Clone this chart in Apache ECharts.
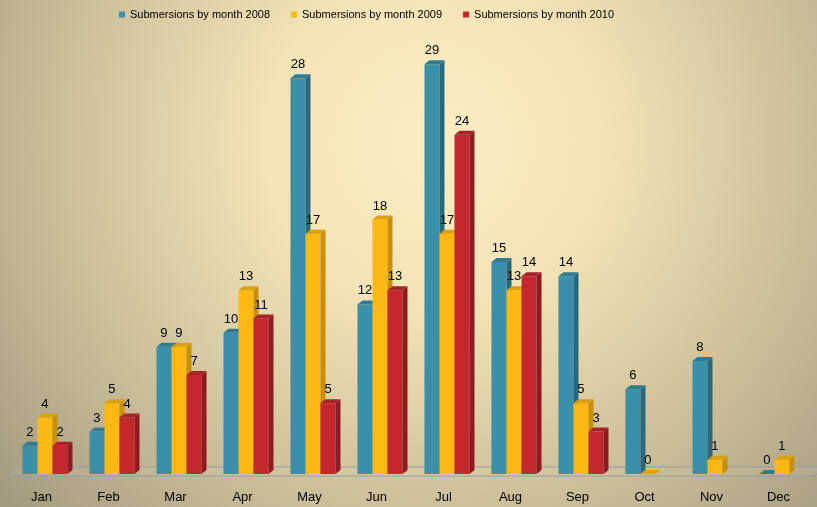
<!DOCTYPE html>
<html>
<head>
<meta charset="utf-8">
<script src="https://cdn.jsdelivr.net/npm/echarts@6/dist/echarts.min.js"></script>
<style>
  html, body { margin: 0; padding: 0; }
  #chart { width: 817px; height: 507px; }
</style>
</head>
<body>
<div id="chart"></div>
<script>
var months = ['Jan', 'Feb', 'Mar', 'Apr', 'May', 'Jun', 'Jul', 'Aug', 'Sep', 'Oct', 'Nov', 'Dec'];
var sub2008 = [2, 3, 9, 10, 28, 12, 29, 15, 14, 6, 8, 0];
var sub2009 = [4, 5, 9, 13, 17, 18, 17, 13, 5, 0, 1, 1];
var sub2010 = [2, 4, 7, 11, 5, 13, 24, 14, 3, null, null, null];

var FONT = '"Liberation Sans", Arial, sans-serif';

// front / side / top colours of each series
var shades = [
  {front: '#3a8fa9', side: '#2a687b', top: '#2f7b92'},
  {front: '#fdb913', side: '#c98f0b', top: '#dca10e'},
  {front: '#c3282d', side: '#8c1c20', top: '#a62327'}
];

function bar3d(idx) {
  return function (params, api) {
    var v = api.value(1);
    if (v == null || isNaN(v)) return;
    var base = api.coord([api.value(0), 0]);
    var top = api.coord([api.value(0), v]);
    var band = api.size([1, 0])[0];
    var w = band * 0.224;
    var x = base[0] - band * 0.284 + w * idx;
    var dx = w / 3, dy = 4;
    var c = shades[idx];
    var kids = [];
    if (v > 0) {
      kids.push({type: 'rect', shape: {x: x, y: top[1], width: w, height: base[1] - top[1]}, style: {fill: c.front}});
      kids.push({type: 'polygon', shape: {points: [[x + w, top[1]], [x + w + dx, top[1] - dy], [x + w + dx, base[1] - dy], [x + w, base[1]]]}, style: {fill: c.side}});
    }
    kids.push({type: 'polygon', shape: {points: [[x, top[1]], [x + dx, top[1] - dy], [x + w + dx, top[1] - dy], [x + w, top[1]]]}, style: {fill: c.top}});
    kids.push({type: 'text', style: {
      text: String(v), x: x + w / 2, y: top[1] - dy - 3,
      align: 'center', verticalAlign: 'bottom',
      font: '13px ' + FONT, fill: '#000'
    }});
    return {type: 'group', children: kids};
  };
}

function floor(params, api) {
  var cs = params.coordSys;
  var yb = cs.y + cs.height;
  var d = 8;
  return {
    type: 'polygon',
    shape: {points: [[cs.x - 1, yb + 2], [cs.x - 1 + d, yb - 7], [cs.x + cs.width + d + 10, yb - 7], [cs.x + cs.width, yb + 2]]},
    style: {fill: 'rgba(255,255,255,0.06)', stroke: '#9a9d9f', lineWidth: 1}
  };
}

function pairs(arr) {
  return arr.map(function (v, i) { return [i, v]; });
}

var names = ['Submersions by month 2008', 'Submersions by month 2009', 'Submersions by month 2010'];
var values = [sub2008, sub2009, sub2010];

var series = [{
  type: 'custom',
  name: 'floor',
  renderItem: floor,
  data: [[0, 0]],
  z: 1,
  silent: true
}];
values.forEach(function (arr, i) {
  series.push({
    type: 'custom',
    name: names[i],
    renderItem: bar3d(i),
    itemStyle: {color: shades[i].front},
    data: pairs(arr),
    z: 2
  });
});

var chart = echarts.init(document.getElementById('chart'));
chart.setOption({
  animation: false,
  backgroundColor: {
    type: 'radial', x: 0.53, y: 0.28, r: 1.1,
    colorStops: [
      {offset: 0, color: '#fcedc3'},
      {offset: 0.3, color: '#f4e3b6'},
      {offset: 0.75, color: '#c2b793'},
      {offset: 1, color: '#a39b80'}
    ]
  },
  legend: {
    data: names,
    left: 114,
    top: 4,
    icon: 'rect',
    itemWidth: 6,
    itemHeight: 6,
    itemGap: 21,
    textStyle: {fontSize: 11, fontFamily: FONT, color: '#000'}
  },
  grid: {left: 8, right: 5, top: 50, bottom: 33, containLabel: false},
  xAxis: {
    type: 'category',
    data: months,
    axisLine: {show: false},
    axisTick: {show: false},
    axisLabel: {fontSize: 13, fontFamily: FONT, color: '#000', margin: 17}
  },
  yAxis: {
    type: 'value',
    min: 0,
    max: 30,
    show: false,
    splitLine: {show: false}
  },
  series: series
});
</script>
</body>
</html>
